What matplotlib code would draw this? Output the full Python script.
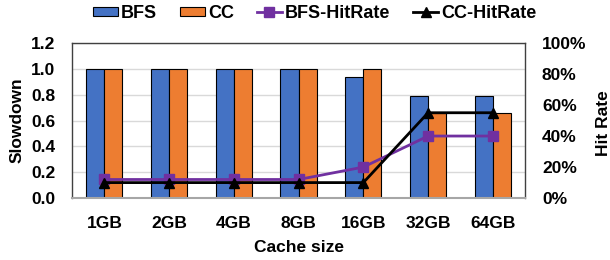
"""Slowdown and hit rate versus cache size for BFS and CC."""

import numpy as np
import matplotlib

matplotlib.use("Agg")
import matplotlib.pyplot as plt
from matplotlib.ticker import FuncFormatter

plt.rcParams["font.family"] = ["Liberation Sans", "DejaVu Sans"]
plt.rcParams["font.weight"] = "bold"

categories = ["1GB", "2GB", "4GB", "8GB", "16GB", "32GB", "64GB"]
bfs_slowdown = [1.0, 1.0, 1.0, 1.0, 0.94, 0.79, 0.79]
cc_slowdown = [1.0, 1.0, 1.0, 1.0, 1.0, 0.66, 0.66]
bfs_hitrate = [12, 12, 12, 12, 20, 40, 40]
cc_hitrate = [10, 10, 10, 10, 10, 55, 55]

BLUE = "#4472C4"
ORANGE = "#ED7D31"
PURPLE = "#7030A0"
FS = 12.5

fig = plt.figure(figsize=(6.1, 2.6), dpi=100)
ax = fig.add_axes([0.118, 0.238, 0.743, 0.597])
x = np.arange(len(categories))
width = 0.28

ax.bar(x - width / 2, bfs_slowdown, width, color=BLUE, edgecolor="black",
       linewidth=0.8, label="BFS", zorder=2)
ax.bar(x + width / 2, cc_slowdown, width, color=ORANGE, edgecolor="black",
       linewidth=0.8, label="CC", zorder=2)
ax.set_ylim(0, 1.2)
ax.set_yticks(np.arange(0, 1.21, 0.2))
ax.yaxis.set_major_formatter(FuncFormatter(lambda v, _: f"{v:.1f}"))
ax.set_xlim(-0.5, len(categories) - 0.5)
ax.set_xticks(x)
ax.set_xticklabels(categories)
ax.grid(axis="y", color="#d9d9d9", linewidth=1, zorder=0)
ax.set_axisbelow(True)
ax.tick_params(axis="y", length=0, labelsize=FS, pad=12)
ax.tick_params(axis="x", length=0, labelsize=FS, pad=13)
ax.set_ylabel("Slowdown", fontsize=FS, fontweight="bold")
ax.yaxis.set_label_coords(-0.104, 0.5)
ax.set_xlabel("Cache size", fontsize=FS, fontweight="bold")
ax.xaxis.set_label_coords(0.5, -0.27)
for spine in ax.spines.values():
    spine.set_color("#404040")
    spine.set_linewidth(1)
ax.spines["bottom"].set_color("#a6a6a6")
ax.spines["bottom"].set_linewidth(1.5)

ax2 = ax.twinx()
ax2.plot(x, bfs_hitrate, color=PURPLE, marker="s", markersize=7,
         linewidth=2, label="BFS-HitRate", zorder=3)
ax2.plot(x, cc_hitrate, color="black", marker="^", markersize=7,
         linewidth=2, label="CC-HitRate", zorder=3)
ax2.set_ylim(0, 100)
ax2.set_yticks(np.arange(0, 101, 20))
ax2.yaxis.set_major_formatter(FuncFormatter(lambda v, _: f"{v:.0f}%"))
ax2.tick_params(length=0, labelsize=FS, pad=12)
ax2.set_ylabel("Hit Rate", fontsize=FS, fontweight="bold")
ax2.yaxis.set_label_coords(1.156, 0.48)
for spine in ax2.spines.values():
    spine.set_visible(False)

handles = ax.get_legend_handles_labels()[0] + ax2.get_legend_handles_labels()[0]
labels = ["BFS", "CC", "BFS-HitRate", "CC-HitRate"]
fig.legend(handles, labels, loc="center", bbox_to_anchor=(0.516, 0.948), ncol=4,
           frameon=False, fontsize=13, handlelength=1.4, handleheight=0.45,
           handletextpad=0.17, columnspacing=1.25, borderpad=0)

fig.savefig("out.png", dpi=100)
